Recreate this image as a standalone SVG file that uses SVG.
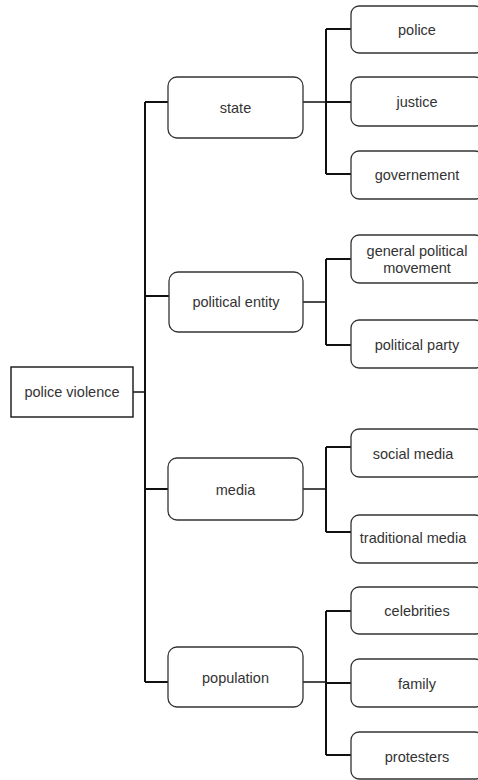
<svg xmlns="http://www.w3.org/2000/svg" width="478" height="780" viewBox="0 0 478 780">
<style>
.box{fill:#fff;stroke:#333;stroke-width:1.3}
.root{fill:#fff;stroke:#222;stroke-width:1.5}
.t{font-family:"Liberation Sans",Arial,sans-serif;font-size:14.5px;fill:#333;text-anchor:middle;dominant-baseline:central}
.e{fill:none;stroke:#111;stroke-width:2}
.s{fill:none;stroke:#111;stroke-width:1.5}
</style>
<rect width="478" height="780" fill="#fff"/>
<g id="connectors">
<path class="s" d="M133 392H145"/>
<path class="e" d="M145 102V682"/>
<path class="e" d="M145 102H168M145 296H169M145 489H168M145 682H168"/>
<path class="s" d="M303 102H326M303 302H326M303 489H326M303 682H326"/>
<path class="e" d="M326 29V174M351 29H326M326 102H351M326 174H351"/>
<path class="e" d="M326 259V345M326 259H351M326 345H351"/>
<path class="e" d="M326 447V532M326 447H351M326 532H351"/>
<path class="e" d="M326 611V755M326 611H351M326 683H351M326 755H351"/>
</g>
<g id="n-root"><rect class="root" x="11" y="367" width="122" height="50"/><text class="t" x="72" y="392">police violence</text></g>
<g id="n-state"><rect class="box" x="168" y="77" width="135" height="61" rx="9"/><text class="t" x="235.5" y="108">state</text></g>
<g id="n-political-entity"><rect class="box" x="169" y="272" width="134" height="60" rx="9"/><text class="t" x="236" y="302">political entity</text></g>
<g id="n-media"><rect class="box" x="168" y="458" width="135" height="62" rx="9"/><text class="t" x="235.5" y="490">media</text></g>
<g id="n-population"><rect class="box" x="168" y="647" width="135" height="60" rx="9"/><text class="t" x="235.5" y="678">population</text></g>
<g id="n-police"><rect class="box" x="351" y="6" width="132" height="47" rx="8"/><text class="t" x="417" y="30">police</text></g>
<g id="n-justice"><rect class="box" x="351" y="77" width="132" height="49" rx="8"/><text class="t" x="417" y="102">justice</text></g>
<g id="n-governement"><rect class="box" x="351" y="151" width="132" height="48" rx="8"/><text class="t" x="417" y="175">governement</text></g>
<g id="n-general-political-movement"><rect class="box" x="351" y="235" width="132" height="48" rx="8"/><text class="t" x="417" y="251">general political</text><text class="t" x="417" y="268">movement</text></g>
<g id="n-political-party"><rect class="box" x="351" y="320" width="132" height="48" rx="8"/><text class="t" x="417" y="345">political party</text></g>
<g id="n-social-media"><rect class="box" x="351" y="429" width="132" height="48" rx="8"/><text class="t" x="413" y="454">social media</text></g>
<g id="n-traditional-media"><rect class="box" x="351" y="515" width="132" height="48" rx="8"/><text class="t" x="413" y="538">traditional media</text></g>
<g id="n-celebrities"><rect class="box" x="351" y="587" width="132" height="47" rx="8"/><text class="t" x="417" y="611">celebrities</text></g>
<g id="n-family"><rect class="box" x="351" y="659" width="132" height="48" rx="8"/><text class="t" x="417" y="684">family</text></g>
<g id="n-protesters"><rect class="box" x="351" y="732" width="132" height="47" rx="8"/><text class="t" x="417" y="757">protesters</text></g>
</svg>
